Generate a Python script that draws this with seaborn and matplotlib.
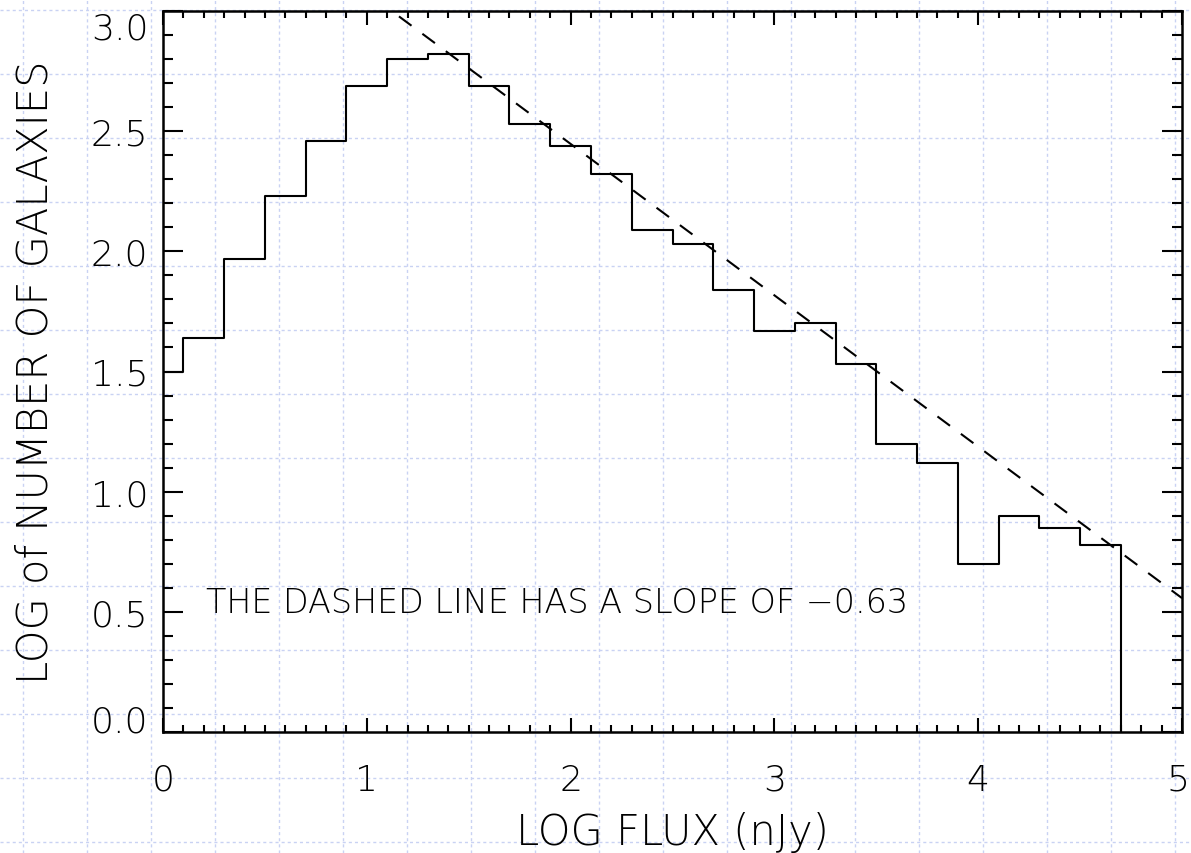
import numpy as np
import pandas as pd
import matplotlib
matplotlib.use("Agg")
import matplotlib.pyplot as plt
import matplotlib.transforms as mtransforms
import seaborn as sns
from matplotlib.ticker import MultipleLocator, FormatStrFormatter

# Histogram of galaxy counts: bin edges in log flux (nJy) and log counts per bin
bin_edges = [0.0, 0.1, 0.3, 0.5, 0.7, 0.9, 1.1, 1.3, 1.5, 1.7, 1.9, 2.1, 2.3,
             2.5, 2.7, 2.9, 3.1, 3.3, 3.5, 3.7, 3.9, 4.1, 4.3, 4.5, 4.7]
log_counts = [1.50, 1.64, 1.97, 2.23, 2.46, 2.69, 2.80, 2.82, 2.69, 2.53, 2.44,
              2.32, 2.09, 2.03, 1.84, 1.67, 1.70, 1.53, 1.20, 1.12, 0.70, 0.90,
              0.85, 0.78]

# Power-law reference line
slope = -0.63
intercept = 3.707
fit_x = [0.0, 5.0]

x_ticks = [0, 1, 2, 3, 4, 5]
y_ticks = [0.0, 0.5, 1.0, 1.5, 2.0, 2.5, 3.0]

sns.set_style("ticks")
plt.rcParams["font.family"] = ["DejaVu Sans"]
plt.rcParams["font.weight"] = "light"
plt.rcParams["axes.labelweight"] = "light"
plt.rcParams["axes.linewidth"] = 1.8
plt.rcParams["text.color"] = "black"
plt.rcParams["axes.labelcolor"] = "black"
plt.rcParams["xtick.labelcolor"] = "black"
plt.rcParams["ytick.labelcolor"] = "black"

W, H = 1191, 854
fig = plt.figure(figsize=(W / 100, H / 100), dpi=100, facecolor="white")

# graph-paper style dotted background grid over the whole page
bg = fig.add_axes([0, 0, 1, 1], zorder=0)
bg.set_xlim(0, W)
bg.set_ylim(H, 0)
bg.axis("off")
grid_kw = dict(color="#c9d2f3", lw=1.0, ls=(0, (2.2, 2.2)))
for gx in np.arange(23, W, 64):
    bg.axvline(gx, **grid_kw)
for gy in np.arange(11, H, 64):
    bg.axhline(gy, **grid_kw)

ax = fig.add_axes([163 / W, (H - 733) / H, (1182 - 163) / W, (733 - 12) / H], zorder=1)
ax.patch.set_alpha(0)

# step outline: hold each bin level to its right edge, then drop to zero
step_x = bin_edges + [bin_edges[-1]]
step_y = log_counts + [log_counts[-1], 0.0]
hist_df = pd.DataFrame({"flux": step_x, "count": step_y})
sns.lineplot(data=hist_df, x="flux", y="count", ax=ax, estimator=None, sort=False,
             drawstyle="steps-post", color="black", lw=1.5)

fit_df = pd.DataFrame({"flux": fit_x,
                       "count": [intercept + slope * v for v in fit_x]})
sns.lineplot(data=fit_df, x="flux", y="count", ax=ax, color="black", lw=1.5,
             dashes=False, linestyle=(0, (7.5, 6.5)))

ax.set_xlim(0, 5)
ax.set_ylim(0, 3.0)
ax.set_xticks(x_ticks)
ax.set_yticks(y_ticks)
ax.xaxis.set_minor_locator(MultipleLocator(0.1))
ax.yaxis.set_minor_locator(MultipleLocator(0.1))
ax.yaxis.set_major_formatter(FormatStrFormatter("%.1f"))
ax.xaxis.set_major_formatter(FormatStrFormatter("%d"))

ax.tick_params(axis="both", which="both", direction="in", top=True, right=True,
               color="black", width=1.5, labelsize=26)
ax.tick_params(axis="x", which="major", length=10, pad=22)
ax.tick_params(axis="x", which="minor", length=5)
ax.tick_params(axis="y", which="major", length=14.5, pad=10.5)
ax.tick_params(axis="y", which="minor", length=7.2)
for spine in ax.spines.values():
    spine.set_visible(True)
    spine.set_linewidth(1.8)
    spine.set_color("black")

# keep the end labels inside the axis span
yt = ax.yaxis.get_major_ticks()
yt[0].label1.set_va("baseline")
yt[-1].label1.set_va("top")
xt = ax.xaxis.get_major_ticks()
last = xt[-1].label1
last.set_transform(last.get_transform()
                   + mtransforms.ScaledTranslation(-4 / 100, 0, fig.dpi_scale_trans))

ax.set_xlabel("LOG FLUX (nJy)", fontsize=30, va="baseline")
ax.xaxis.set_label_coords(0.5, (733 - 845) / 721)
ax.set_ylabel("LOG of NUMBER OF GALAXIES", fontsize=30, va="baseline")
ax.yaxis.set_label_coords((48 - 163) / 1019, 0.5)

ax.text(0.21, 0.5, "THE DASHED LINE HAS A SLOPE OF \u22120.63", fontsize=24,
        va="baseline", ha="left")

fig.savefig("out.png", dpi=100, facecolor="white")
